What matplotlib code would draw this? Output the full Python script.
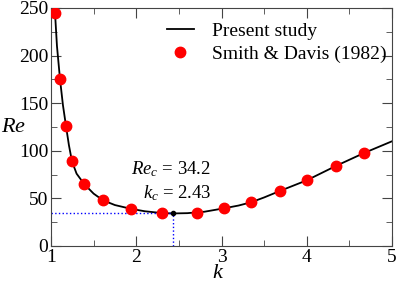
import matplotlib
matplotlib.use("Agg")
import matplotlib.pyplot as plt
from matplotlib.ticker import MultipleLocator

plt.rcParams["font.family"] = ["Liberation Serif", "DejaVu Serif"]
plt.rcParams["mathtext.fontset"] = "custom"
plt.rcParams["mathtext.rm"] = "Liberation Serif"
plt.rcParams["mathtext.it"] = "Liberation Serif:italic"

# present study curve
curve_k = [1.03, 1.047, 1.07, 1.106, 1.14, 1.176, 1.21, 1.246, 1.3, 1.39, 1.5,
           1.61, 1.75, 1.94, 2.1, 2.3, 2.43, 2.6, 2.8, 3.03, 3.2, 3.35, 3.5,
           3.69, 4.0, 4.34, 4.67, 5.0]
curve_re = [262, 245, 210, 175, 148, 126, 106, 89, 76, 65, 55,
            48, 43, 39, 36.5, 34.6, 34.2, 34.5, 36, 39.6, 42.5, 46, 51,
            58, 69, 84, 97.6, 110]

# Smith & Davis (1982)
sd_k = [1.047, 1.106, 1.176, 1.246, 1.39, 1.61, 1.94, 2.30, 2.71, 3.03,
        3.35, 3.69, 4.0, 4.34, 4.67]
sd_re = [245, 175, 126, 89, 65, 48, 39, 34.6, 35, 39.6, 46, 58, 69, 84, 97.6]

k_c = 2.43
re_c = 34.2

fig = plt.figure(figsize=(3.97, 2.84), dpi=100)
ax = fig.add_axes([51 / 397, 1 - 246 / 284, 341 / 397, 238 / 284])

ax.plot(curve_k, curve_re, color="black", lw=1.3, label="Present study", zorder=2)
ax.plot(sd_k, sd_re, "o", color="red", ms=7.5, mec="red", lw=0,
        label="Smith & Davis (1982)", zorder=3)
ax.plot([1, k_c], [re_c, re_c], ":", color="blue", lw=1)
ax.plot([k_c, k_c], [0, re_c], ":", color="blue", lw=1)
ax.plot([k_c], [re_c], "o", color="black", ms=3, zorder=4)

ax.text(2.88, 81, r"$Re_c$ = 34.2", ha="right", va="center", fontsize=13.5)
ax.text(2.88, 56, r"$k_c$ = 2.43", ha="right", va="center", fontsize=13.5)

ax.set_xlim(1, 5)
ax.set_ylim(0, 250)
ax.xaxis.set_major_locator(MultipleLocator(1))
ax.xaxis.set_minor_locator(MultipleLocator(0.5))
ax.yaxis.set_major_locator(MultipleLocator(50))
ax.yaxis.set_minor_locator(MultipleLocator(25))
ax.tick_params(which="both", direction="in", top=True, right=True,
               labelsize=14, color="#444444", pad=2)
ax.tick_params(which="major", length=7)
ax.tick_params(which="minor", length=4)
for s in ax.spines.values():
    s.set_edgecolor("#444444")

fig.text(218 / 397, 1 - 274 / 284, r"$k$", fontsize=16, ha="center", va="center")
fig.text(14 / 397, 1 - 127 / 284, r"$Re$", fontsize=16, ha="center", va="center")

ax.legend(loc="upper right", frameon=False, fontsize=14, handlelength=1.4,
          handletextpad=0.9, borderaxespad=0.0, borderpad=0.3,
          labelspacing=0.3, bbox_to_anchor=(1.0, 0.965))

fig.savefig("out.png", dpi=100)
